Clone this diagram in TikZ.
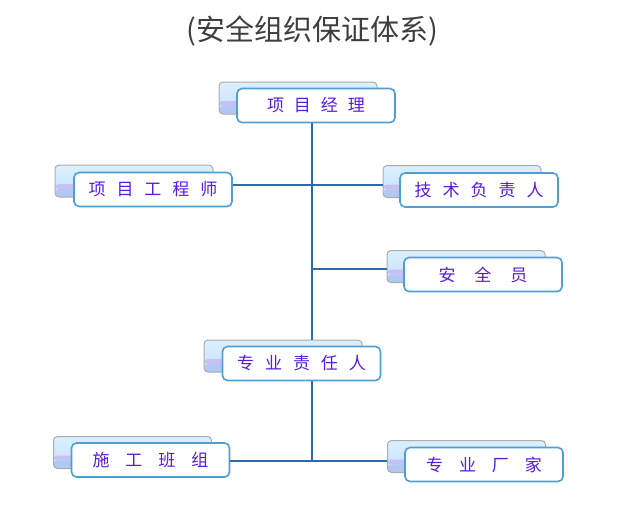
\documentclass[tikz,border=0pt]{standalone}
\usepackage{fontspec}
\usepackage{tikz}
\usepackage{xcolor}
\newfontfamily\cjk{Noto Sans CJK SC}
\definecolor{linkblue}{RGB}{47,105,170}
\definecolor{frameblue}{RGB}{78,160,212}
\definecolor{textviolet}{RGB}{88,28,222}
\definecolor{backtop}{RGB}{220,240,253}
\definecolor{backblue}{RGB}{196,224,250}
\definecolor{backlilac}{RGB}{198,192,245}
\definecolor{backdeep}{RGB}{176,200,242}
\definecolor{titlegray}{RGB}{62,62,62}

\tikzset{
  frontbox/.style={draw=frameblue, line width=1.6pt, fill=white, rounded corners=5pt,
    minimum width=158pt, minimum height=34pt, inner sep=0pt,
    text=textviolet, font=\cjk\fontsize{17}{17}\selectfont},
  backbox/.style={draw=gray!65, line width=1pt, rounded corners=4pt,
    top color=backtop, bottom color=backblue,
    minimum width=158pt, minimum height=32pt, inner sep=0pt,
    path picture={
      \fill[backdeep] (path picture bounding box.south west) rectangle ([yshift=8pt]path picture bounding box.south east);
      \fill[backlilac] ([yshift=8pt]path picture bounding box.south west) rectangle ([yshift=13pt]path picture bounding box.south east);
    }},
  link/.style={draw=linkblue, line width=1.6pt}
}

\begin{document}
\begin{tikzpicture}[x=1pt,y=-1pt]
\useasboundingbox (0,0) rectangle (640,523);

% title
\node[text=titlegray, font=\cjk\fontsize{29}{32}\selectfont] (title) at (312,31) {(安全组织保证体系)};

% boxes: shadow card behind, white card in front
\node[backbox] (pmback) at (298,98) {};
\node[frontbox] (pm) at (316,105.5) {项\hspace{10pt}目\hspace{10pt}经\hspace{10pt}理};

\node[backbox] (engback) at (134,181) {};
\node[frontbox] (eng) at (153,189.5) {项\hspace{11pt}目\hspace{11pt}工\hspace{11pt}程\hspace{11pt}师};

\node[backbox] (techback) at (462,181.5) {};
\node[frontbox] (tech) at (479,190) {技\hspace{11pt}术\hspace{11pt}负\hspace{11pt}责\hspace{11pt}人};

\node[backbox] (safeback) at (466,266.5) {};
\node[frontbox] (safe) at (483,274.5) {安\hspace{19pt}全\hspace{19pt}员};

\node[backbox] (leadback) at (283,356) {};
\node[frontbox] (lead) at (301.5,363.5) {专\hspace{11pt}业\hspace{11pt}责\hspace{11pt}任\hspace{11pt}人};

\node[backbox] (teamback) at (132.5,452.5) {};
\node[frontbox] (team) at (150.5,460) {施\hspace{16pt}工\hspace{16pt}班\hspace{16pt}组};

\node[backbox] (vendorback) at (466.5,456.5) {};
\node[frontbox] (vendor) at (484,464.5) {专\hspace{16pt}业\hspace{16pt}厂\hspace{16pt}家};

% connectors
\coordinate (j1) at (312,185);
\coordinate (j2) at (312,269);
\coordinate (j3) at (312,461);
\draw[link] (pm.south -| j1) -- (leadback.north -| j1);
\draw[link] (eng.east |- j1) -- (techback.west |- j1);
\draw[link] (j2) -- (safeback.west |- j2);
\draw[link] (lead.south -| j3) -- (j3);
\draw[link] (team.east |- j3) -- (vendorback.west |- j3);
\end{tikzpicture}
\end{document}
